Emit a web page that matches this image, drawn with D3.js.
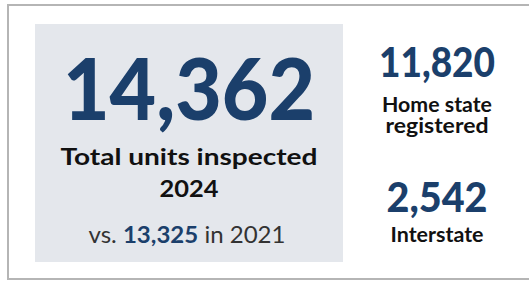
<!DOCTYPE html>
<html>
<head>
<meta charset="utf-8">
<script src="https://cdn.jsdelivr.net/npm/d3@7"></script>
<style>
  html, body { margin: 0; padding: 0; background: #fff; }
  svg { display: block; font-family: Lato, "Open Sans", sans-serif; }
</style>
</head>
<body>
<svg id="kpi"></svg>
<script>
// headline figure
const totalValue = 14362;
const totalLabel = ["Total units inspected", "2024"];
const priorValue = 13325;
const priorYear = 2021;

// breakdown on the right
const breakdownLabels = [["Home state", "registered"], ["Interstate"]];
const breakdownValues = [11820, 2542];

const width = 529, height = 281;
const navy = "#1b3f6b";
const fmt = d3.format(",");

// Century Gothic is wider than anything installed, so stretch text to the widths in the original
const fit = (sel, w) => sel.attr("textLength", w).attr("lengthAdjust", "spacingAndGlyphs");

const svg = d3.select("#kpi")
    .attr("width", width)
    .attr("height", height);

// outer card border (runs off the right edge)
svg.append("rect")
    .attr("x", 8).attr("y", 5)
    .attr("width", 540).attr("height", 274)
    .attr("fill", "#fff")
    .attr("stroke", "#b5b5b5")
    .attr("stroke-width", 2);

// shaded panel for the main number
svg.append("rect")
    .attr("x", 35).attr("y", 24)
    .attr("width", 308).attr("height", 238)
    .attr("fill", "#e4e7ec");

const cx = 189;

svg.append("text")
    .attr("x", cx).attr("y", 120)
    .attr("text-anchor", "middle")
    .attr("font-size", 86)
    .attr("font-weight", 900)
    .attr("fill", navy)
    .call(fit, 252)
    .text(fmt(totalValue));

const labelWidths = [257, 59];
svg.append("g").selectAll("text")
    .data(totalLabel)
    .join("text")
    .attr("x", cx)
    .attr("y", (d, i) => 165 + i * 32)
    .attr("text-anchor", "middle")
    .attr("font-size", 23)
    .attr("font-weight", 700)
    .attr("fill", "#111")
    .each(function(d, i) { d3.select(this).call(fit, labelWidths[i]); })
    .text(d => d);

const vs = svg.append("text")
    .attr("x", 187).attr("y", 243)
    .attr("text-anchor", "middle")
    .attr("font-size", 23)
    .attr("fill", "#333")
    .call(fit, 197);
vs.append("tspan").text("vs. ");
vs.append("tspan").attr("font-weight", 700).attr("fill", navy).text(fmt(priorValue));
vs.append("tspan").text(" in " + priorYear);

// right-hand breakdown
const rx = 437;
const blockTop = [77, 212];
const labelGap = [35, 30];
const valueWidths = [116, 101];
const lblWidths = [[110, 103], [93]];

const blocks = svg.selectAll("g.block")
    .data(breakdownValues)
    .join("g")
    .attr("class", "block")
    .attr("transform", (d, i) => `translate(${rx},${blockTop[i]})`);

blocks.append("text")
    .attr("text-anchor", "middle")
    .attr("font-size", 41)
    .attr("font-weight", 900)
    .attr("fill", navy)
    .each(function(d, i) { d3.select(this).call(fit, valueWidths[i]); })
    .text(d => fmt(d));

blocks.each(function(d, i) {
    d3.select(this).selectAll("text.lbl")
        .data(breakdownLabels[i])
        .join("text")
        .attr("class", "lbl")
        .attr("y", (t, j) => labelGap[i] + j * 21)
        .attr("text-anchor", "middle")
        .attr("font-size", 21)
        .attr("font-weight", 700)
        .attr("fill", "#111")
        .each(function(t, j) { d3.select(this).call(fit, lblWidths[i][j]); })
        .text(t => t);
});
</script>
</body>
</html>
